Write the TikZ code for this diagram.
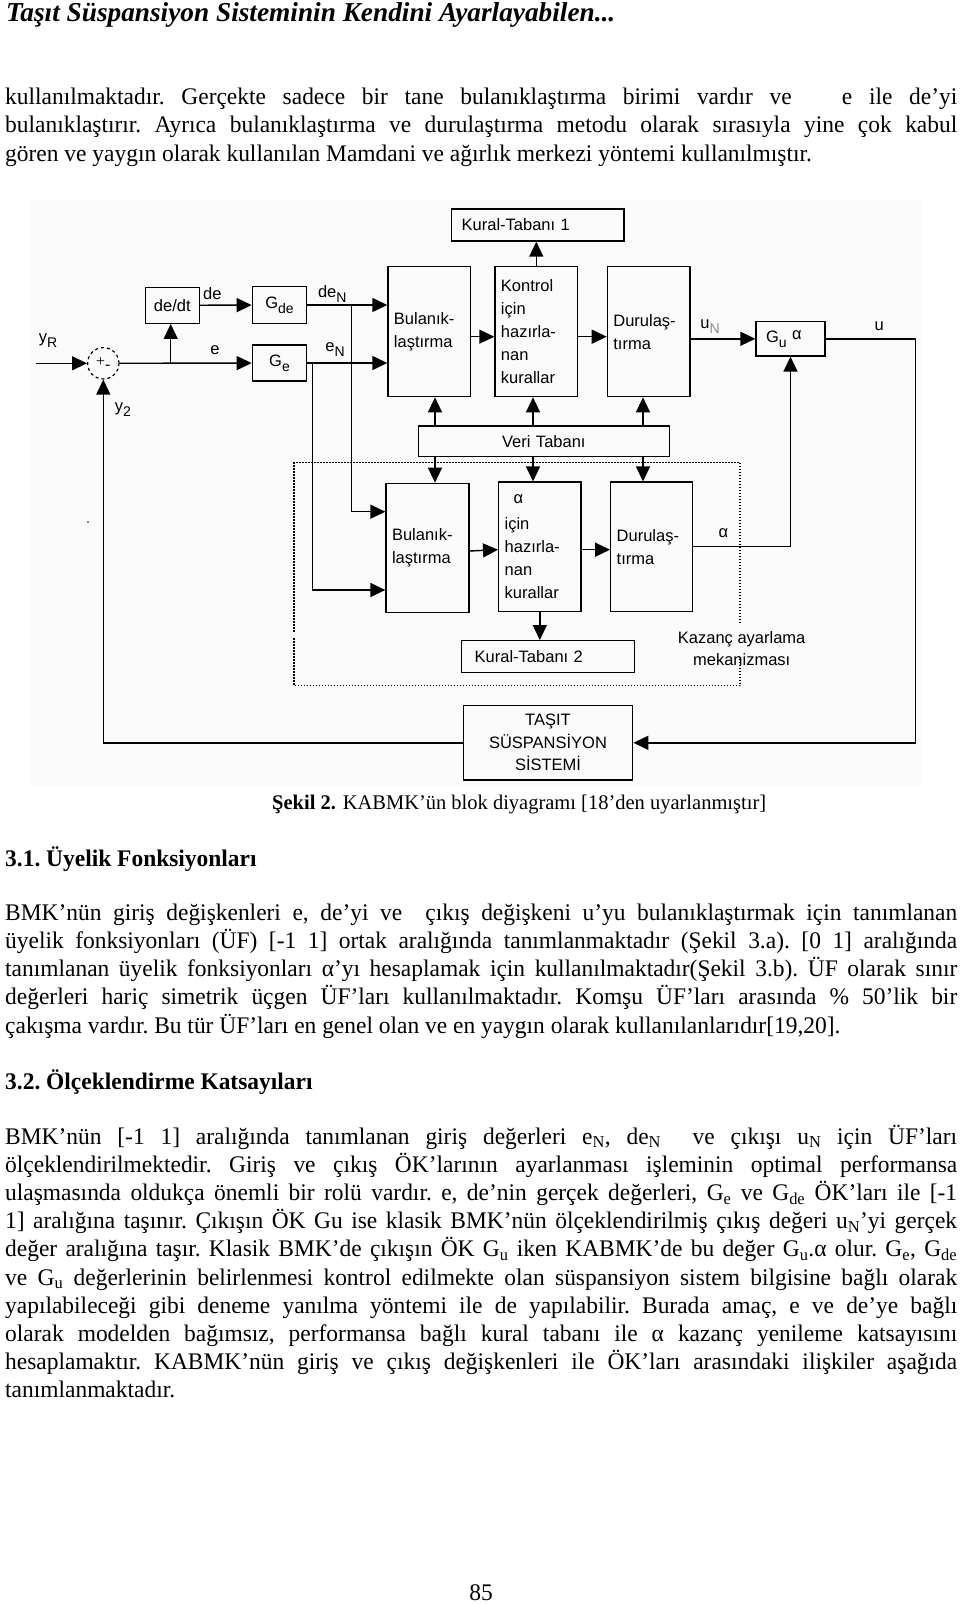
\documentclass[tikz,border=0pt]{standalone}
\usepackage{fontspec}
\setmainfont{Liberation Serif}[FakeStretch=0.985]
\newfontfamily\hdfont{Liberation Serif}
\newfontfamily\blkfont{Liberation Sans}
\usetikzlibrary{arrows.meta}
\newcommand{\subx}[1]{\textsubscript{#1}}
\newcommand{\dsub}[1]{\raisebox{-5pt}{\fontsize{14}{14}\selectfont #1}}

\tikzset{
  blk/.style={draw, line width=1.3pt, inner xsep=6pt, inner ysep=0pt, align=left,
    font=\blkfont\fontsize{16.5}{23}\selectfont},
  lbl/.style={inner sep=0pt, font=\blkfont\fontsize{16.5}{22.3}\selectfont},
  arr/.style={line width=1.4pt, -{Triangle[length=15pt,width=14pt]}},
  dots/.style={line width=1.2pt, dash pattern=on 1.5pt off 1.5pt},
  txt/.style={anchor=base west, inner sep=0pt, font=\fontsize{23.8}{28.2}\selectfont\frenchspacing},
}

\begin{document}
\begin{tikzpicture}[x=1pt, y=-1pt]
    \useasboundingbox (0,0) rectangle (960,1605);
    \fill[white] (0,0) rectangle (960,1605);

    % Sayfa basligi
    \node[anchor=base west, inner sep=0pt, font=\hdfont\bfseries\itshape\fontsize{27.3}{30}\selectfont] (hdr) at (6,22) {Taşıt Süspansiyon Sisteminin Kendini Ayarlayabilen...};

    % Ilk paragraf
    \foreach \row [count=\i] in {{kullanılmaktadır. Gerçekte sadece bir tane bulanıklaştırma birimi vardır ve \ \ e ile de’yi},
        {bulanıklaştırır. Ayrıca bulanıklaştırma ve durulaştırma metodu olarak sırasıyla yine çok kabul}}
        \node[txt] (pa\i) at (5,{104.5+28.5*(\i-1)}) {\makebox[952pt][s]{\row}};
    \node[txt] (pa3) at (5,161.5) {gören ve yaygın olarak kullanılan Mamdani ve ağırlık merkezi yöntemi kullanılmıştır.};

    % Sekil zemini
    \fill[black!2] (31,200) rectangle (921,786);
    \fill (88,522) circle (0.8);

    % Ust kol
    \node[circle, draw, dashed, line width=1.2pt, minimum size=31.4pt, inner sep=0pt] (sum) at (103.3,363.3) {\fontsize{16}{16}\selectfont +\raisebox{-3pt}{-}};
    \node[blk, align=center, text width=42pt, minimum height=36pt] (dedt) at (172.3,305.3) {de/dt};
    \node[blk, align=center, text width=42.4pt, minimum height=36.6pt] (gde) at (279.5,305) {G\dsub{de}};
    \node[blk, align=center, text width=42.4pt, minimum height=36pt] (ge) at (279.5,363) {G\dsub{e}};
    \node[blk, text width=70.7pt, minimum height=130pt] (bul1) at (429.3,331.7) {Bulanık-\\laştırma};
    \node[blk, text width=70.7pt, minimum height=130pt] (kon1) at (536.3,331.7) {Kontrol\\için\\hazırla-\\nan\\kurallar};
    \node[blk, text width=70.7pt, minimum height=130pt] (dur1) at (648.7,331.7) {Durulaş-\\tırma};
    \node[blk, inner xsep=10pt, text width=152.3pt, minimum height=32pt] (kt1) at (537.8,225) {Kural-Tabanı 1};
    \node[blk, inner xsep=10pt, text width=49pt, minimum height=34.3pt] (gu) at (790.5,338.8) {G\dsub{u} \raisebox{3pt}{α}};
    \node[blk, align=center, text width=239pt, minimum height=30.7pt] (veri) at (543.8,441.3) {Veri Tabanı};

    % Kazanc ayarlama kolu
    \node[blk, text width=71pt, minimum height=129.4pt] (bul2) at (427.5,548) {Bulanık-\\laştırma};
    \node[blk, text width=70.3pt, minimum height=129.3pt] (alp2) at (539.8,546.7) {\hspace*{9pt}α\\[3pt]için\\hazırla-\\nan\\kurallar};
    \node[blk, text width=70pt, minimum height=129.3pt] (dur2) at (651.7,546.7) {Durulaş-\\tırma};
    \node[blk, inner xsep=13pt, text width=146.6pt, minimum height=31.6pt] (kt2) at (548,656.5) {Kural-Tabanı 2};
    \node[blk, align=center, inner ysep=0pt, text width=157.4pt, minimum height=74.3pt, font=\blkfont\fontsize{16.5}{22.5}\selectfont] (tasit) at (548,742.8) {TAŞIT\\SÜSPANSİYON\\SİSTEMİ};

    % Etiketler
    \node[lbl] (lyr) at (48,341) {y\dsub{R}};
    \node[lbl] (ly2) at (123,410) {y\dsub{2}};
    \node[lbl] (lde) at (212.3,294) {de};
    \node[lbl] (le) at (215,349.7) {e};
    \node[lbl] (lden) at (332.3,294) {de\dsub{N}};
    \node[lbl] (len) at (335,349.7) {e\dsub{N}};
    \node[lbl] (lun) at (710,327) {u\dsub{\textcolor{black!45}{N}}};
    \node[lbl] (lu) at (879.3,326) {u};
    \node[lbl] (lal) at (723.3,533) {α};
    \node[lbl, align=center] (lkaz) at (741.7,648.5) {Kazanç ayarlama\\mekanizması};

    % Baglantilar
    \coordinate (yr) at (36,363.3);
    \coordinate (brd) at (170.7,363.3);
    \coordinate (ebr) at (312.7,363);
    \coordinate (debr) at (351.7,305);
    \coordinate (xa) at (435,0);
    \coordinate (xb) at (533,0);
    \coordinate (xc) at (643,0);
    \draw[arr] (yr) -- (sum);
    \draw[arr] (sum) -- (ge);
    \draw[arr] (brd) -- (brd |- dedt.south);
    \draw[arr] (dedt) -- (gde);
    \draw[arr] (gde) -- (gde -| bul1.west);
    \draw[arr] (ge) -- (ge -| bul1.west);
    \draw[arr] (ebr) |- ([yshift=-42pt]bul2.west);
    \draw[arr] (debr) |- ([yshift=36.3pt]bul2.west);
    \draw[arr] ([yshift=-5pt]bul1.east) -- ([yshift=-5pt]kon1.west);
    \draw[arr] ([yshift=-5pt]kon1.east) -- ([yshift=-5pt]dur1.west);
    \draw[arr] ([yshift=-3pt]bul2.east) -- ([yshift=-3pt]alp2.west);
    \draw[arr] ([yshift=-3pt]alp2.east) -- ([yshift=-3pt]dur2.west);
    \draw[arr] (kon1.north) -- (kon1.north |- kt1.south);
    \draw[arr] (alp2.south) -- (alp2.south |- kt2.north);
    \draw[arr] (veri.north -| xa) -- (bul1.south -| xa);
    \draw[arr] (veri.north -| xb) -- (kon1.south -| xb);
    \draw[arr] (veri.north -| xc) -- (dur1.south -| xc);
    \draw[arr] (veri.south -| xa) -- (bul2.north -| xa);
    \draw[arr] (veri.south -| xb) -- (alp2.north -| xb);
    \draw[arr] (veri.south -| xc) -- (dur2.north -| xc);
    \draw[arr] (gu.west -| dur1.east) -- (gu.west);
    \draw[arr] (gu.east) -- ++(90,0) |- (tasit.east);
    \draw[arr] (dur2.east) -| (gu.south);
    \draw[arr] (tasit.west) -| (sum.south);

    % Noktali cerceve
    \draw[dots] (740,623.3) -- (740,462.7) -- (294,462.7) -- (294,631.7);
    \draw[dots] (294,638.3) -- (294,685.7) -- (740,685.7) -- (740,656.7);

    % Sekil yazisi ve basliklar
    \node[txt, font=\fontsize{20.8}{26}\selectfont] (cap) at (272,809) {\textbf{Şekil 2.} KABMK’ün blok diyagramı [18’den uyarlanmıştır]};
    \node[txt] (sec1) at (5,866) {\textbf{3.1. Üyelik Fonksiyonları}};

    \foreach \row [count=\i] in {{BMK’nün giriş değişkenleri e, de’yi ve \ çıkış değişkeni u’yu bulanıklaştırmak için tanımlanan},
        {üyelik fonksiyonları (ÜF) [-1 1] ortak aralığında tanımlanmaktadır (Şekil 3.a). [0 1] aralığında},
        {tanımlanan üyelik fonksiyonları α’yı hesaplamak için kullanılmaktadır(Şekil 3.b). ÜF olarak sınır},
        {değerleri hariç simetrik üçgen ÜF’ları kullanılmaktadır. Komşu ÜF’ları arasında \% 50’lik bir}}
        \node[txt] (pb\i) at (5,{920+28.3*(\i-1)}) {\makebox[952pt][s]{\row}};
    \node[txt] (pb5) at (5,1033.2) {çakışma vardır. Bu tür ÜF’ları en genel olan ve en yaygın olarak kullanılanlarıdır[19,20].};

    \node[txt] (sec2) at (5,1089) {\textbf{3.2. Ölçeklendirme Katsayıları}};

    \foreach \row [count=\i] in {{BMK’nün [-1 1] aralığında tanımlanan giriş değerleri e\subx{N}, de\subx{N} \ ve çıkışı u\subx{N} için ÜF’ları},
        {ölçeklendirilmektedir. Giriş ve çıkış ÖK’larının ayarlanması işleminin optimal performansa},
        {ulaşmasında oldukça önemli bir rolü vardır. e, de’nin gerçek değerleri, G\subx{e} ve G\subx{de} ÖK’ları ile [-1},
        {1] aralığına taşınır. Çıkışın ÖK Gu ise klasik BMK’nün ölçeklendirilmiş çıkış değeri u\subx{N}’yi gerçek},
        {değer aralığına taşır. Klasik BMK’de çıkışın ÖK G\subx{u} iken KABMK’de bu değer G\subx{u}.α olur. G\subx{e}, G\subx{de}},
        {ve G\subx{u} değerlerinin belirlenmesi kontrol edilmekte olan süspansiyon sistem bilgisine bağlı olarak},
        {yapılabileceği gibi deneme yanılma yöntemi ile de yapılabilir. Burada amaç, e ve de’ye bağlı},
        {olarak modelden bağımsız, performansa bağlı kural tabanı ile α kazanç yenileme katsayısını},
        {hesaplamaktır. KABMK’nün giriş ve çıkış değişkenleri ile ÖK’ları arasındaki ilişkiler aşağıda}}
        \node[txt] (pc\i) at (5,{1144+28.2*(\i-1)}) {\makebox[952pt][s]{\row}};
    \node[txt] (pc10) at (5,1397.8) {tanımlanmaktadır.};

    % Sayfa numarasi
    \node[txt, anchor=base] (pno) at (481,1600) {85};
\end{tikzpicture}
\end{document}
